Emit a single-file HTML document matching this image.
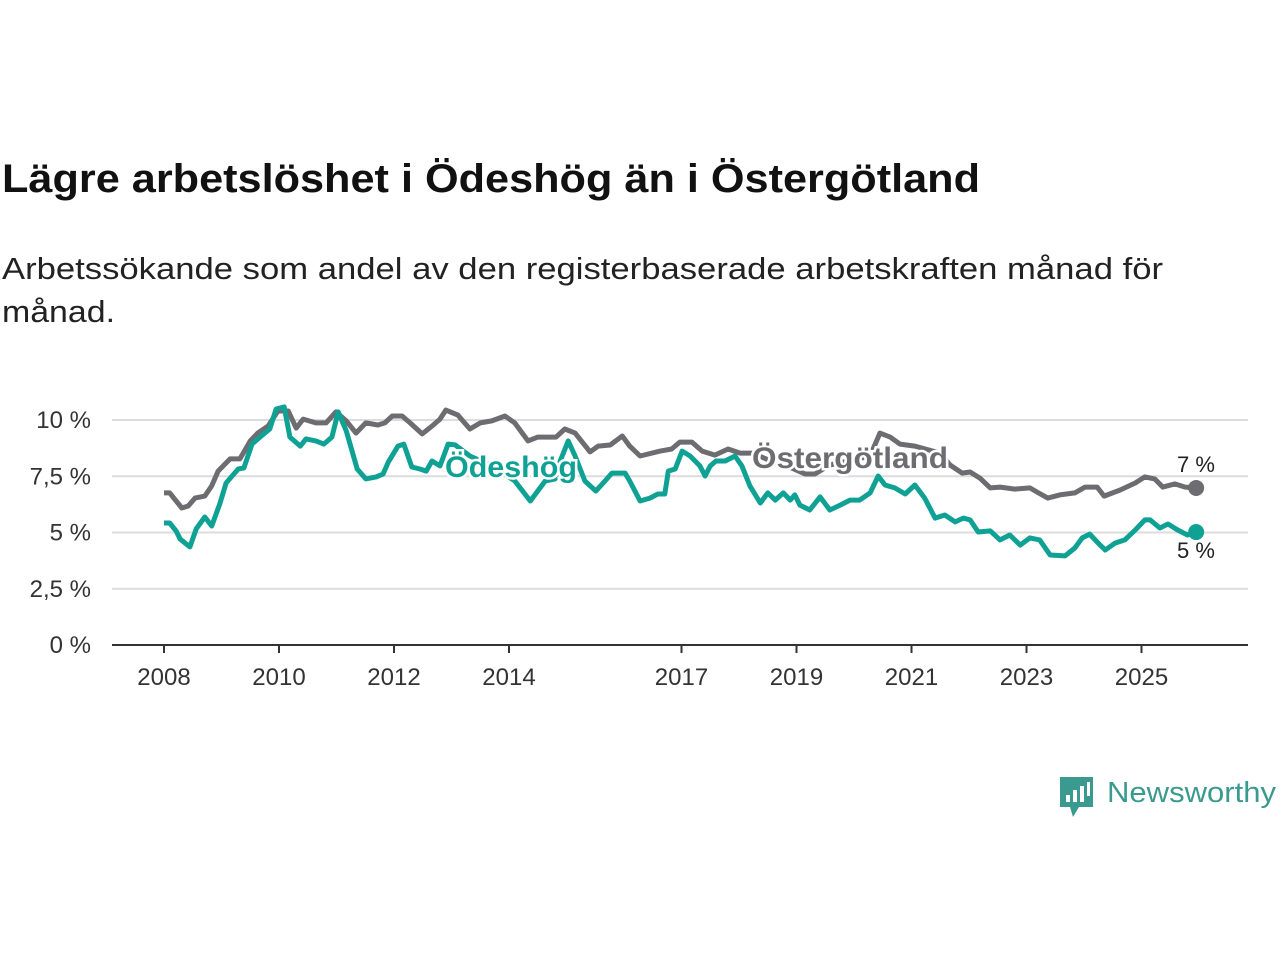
<!DOCTYPE html>
<html><head><meta charset="utf-8"><style>
body{margin:0;background:#fff;}
svg{display:block;font-family:"Liberation Sans",sans-serif;}
</style></head><body>
<svg id="chart" width="1280" height="960" viewBox="0 0 1280 960">
<text x="2" y="192" font-size="40" font-weight="bold" fill="#111" textLength="978" lengthAdjust="spacingAndGlyphs">Lägre arbetslöshet i Ödeshög än i Östergötland</text>
<text x="2" y="279" font-size="31" fill="#222" textLength="1161" lengthAdjust="spacingAndGlyphs">Arbetssökande som andel av den registerbaserade arbetskraften månad för</text>
<text x="2" y="322" font-size="31" fill="#222" textLength="113" lengthAdjust="spacingAndGlyphs">månad.</text>
<g id="grid"></g><g id="xaxis"></g><g id="series"></g>
<g>
<path d="M1060 777h33v30h-14l-6 10-3-10h-10z" fill="#3a9a8f"/>
<rect x="1066" y="795" width="4" height="7" fill="#fff"/><rect x="1073" y="790" width="4" height="12" fill="#fff"/><rect x="1080" y="786" width="4" height="16" fill="#fff"/><rect x="1087" y="782" width="3" height="14" fill="#fff"/>
<text x="1107" y="802" font-size="29" fill="#3a9a8f" textLength="169" lengthAdjust="spacingAndGlyphs">Newsworthy</text>
</g>
</svg>
<script>
const yTicks=[0,2.5,5,7.5,10];
const yTickLabels=["0 %","2,5 %","5 %","7,5 %","10 %"];
const xTicks=[2008,2010,2012,2014,2017,2019,2021,2023,2025];
const ostYears=[2008.0,2008.1,2008.31,2008.42,2008.54,2008.71,2008.83,2008.94,2009.15,2009.32,2009.5,2009.63,2009.81,2009.98,2010.16,2010.3,2010.42,2010.64,2010.82,2010.99,2011.17,2011.34,2011.51,2011.72,2011.84,2011.97,2012.14,2012.28,2012.49,2012.66,2012.8,2012.9,2013.11,2013.32,2013.5,2013.7,2013.93,2014.1,2014.33,2014.5,2014.82,2014.97,2015.15,2015.41,2015.55,2015.76,2015.97,2016.1,2016.28,2016.63,2016.83,2016.97,2017.18,2017.36,2017.58,2017.81,2018.02,2018.23,2018.54,2018.89,2019.15,2019.32,2019.58,2019.93,2020.28,2020.45,2020.63,2020.8,2021.06,2021.5,2021.67,2021.88,2022.02,2022.19,2022.37,2022.54,2022.8,2023.06,2023.18,2023.37,2023.58,2023.84,2024.02,2024.23,2024.35,2024.63,2024.89,2025.06,2025.23,2025.37,2025.58,2025.76,2025.95];
const ostValues=[6.76,6.76,6.09,6.18,6.53,6.62,7.07,7.73,8.27,8.27,9.07,9.42,9.73,10.4,10.4,9.64,10.04,9.87,9.87,10.36,9.96,9.42,9.87,9.78,9.87,10.18,10.18,9.87,9.38,9.73,10.04,10.44,10.22,9.6,9.87,9.96,10.18,9.87,9.07,9.24,9.24,9.6,9.42,8.58,8.84,8.89,9.29,8.84,8.4,8.62,8.71,9.02,9.02,8.62,8.44,8.71,8.53,8.53,8.2,7.9,7.6,7.6,8.0,8.2,8.4,9.42,9.24,8.93,8.84,8.53,8.0,7.64,7.69,7.42,6.98,7.02,6.93,6.98,6.8,6.53,6.67,6.76,7.02,7.02,6.62,6.89,7.2,7.47,7.38,7.02,7.16,7.02,6.98];
const odeYears=[2008.0,2008.1,2008.21,2008.28,2008.45,2008.56,2008.71,2008.83,2008.97,2009.08,2009.29,2009.39,2009.53,2009.67,2009.84,2009.95,2010.09,2010.19,2010.37,2010.47,2010.64,2010.78,2010.92,2011.03,2011.17,2011.36,2011.51,2011.69,2011.81,2011.9,2012.07,2012.17,2012.31,2012.45,2012.56,2012.66,2012.8,2012.94,2013.06,2013.32,2013.67,2014.1,2014.37,2014.63,2014.8,2014.89,2015.03,2015.15,2015.32,2015.51,2015.67,2015.79,2016.02,2016.1,2016.28,2016.45,2016.59,2016.71,2016.77,2016.89,2017.01,2017.15,2017.32,2017.41,2017.5,2017.6,2017.76,2017.93,2018.05,2018.19,2018.37,2018.5,2018.63,2018.77,2018.89,2018.97,2019.06,2019.23,2019.41,2019.58,2019.76,2019.93,2020.1,2020.28,2020.42,2020.54,2020.71,2020.89,2021.06,2021.23,2021.41,2021.58,2021.76,2021.9,2022.02,2022.16,2022.37,2022.54,2022.71,2022.89,2023.06,2023.23,2023.41,2023.67,2023.84,2023.97,2024.1,2024.28,2024.37,2024.54,2024.71,2024.89,2025.06,2025.15,2025.32,2025.46,2025.63,2025.8,2025.95];
const odeValues=[5.42,5.42,5.07,4.71,4.36,5.16,5.69,5.29,6.27,7.2,7.82,7.87,8.93,9.24,9.6,10.49,10.58,9.24,8.84,9.16,9.07,8.93,9.24,10.36,9.51,7.82,7.38,7.47,7.6,8.13,8.84,8.93,7.91,7.82,7.73,8.18,7.96,8.93,8.9,8.4,8.0,7.3,6.4,7.29,7.38,8.18,9.07,8.4,7.29,6.84,7.29,7.64,7.64,7.29,6.4,6.53,6.71,6.71,7.73,7.82,8.62,8.4,7.96,7.51,7.96,8.18,8.18,8.4,7.96,7.07,6.31,6.76,6.44,6.76,6.44,6.67,6.22,6.0,6.58,6.0,6.22,6.44,6.44,6.76,7.51,7.11,6.98,6.71,7.11,6.53,5.64,5.78,5.47,5.64,5.56,5.02,5.07,4.67,4.89,4.44,4.76,4.67,4.0,3.96,4.31,4.76,4.93,4.44,4.22,4.53,4.67,5.11,5.56,5.56,5.2,5.38,5.11,4.89,5.02];

const NS="http://www.w3.org/2000/svg";
const X=y=>164+(y-2008)*57.5;
const Y=v=>645-v*22.5;
function mk(tag,attrs,parent){const e=document.createElementNS(NS,tag);for(const k in attrs)e.setAttribute(k,attrs[k]);parent.appendChild(e);return e;}
const grid=document.getElementById('grid'),xa=document.getElementById('xaxis'),ser=document.getElementById('series');
yTicks.forEach((t,i)=>{
  if(t>0){const l=mk('line',{x1:112,x2:1248,y1:Y(t),y2:Y(t),stroke:'#dcdcdc','stroke-width':2},grid);
  
  }
  const tx=mk('text',{x:91,y:Y(t)+8,'text-anchor':'end','font-size':24,fill:'#333'},grid);
  tx.textContent=yTickLabels[i];
  
  
});
const ax=mk('line',{x1:112,x2:1248,y1:Y(0),y2:Y(0),stroke:'#333','stroke-width':2},xa);


xTicks.forEach(t=>{
  const tk=mk('line',{x1:X(t),x2:X(t),y1:645,y2:653,stroke:'#333','stroke-width':2},xa);
  
  
  const tx=mk('text',{x:X(t),y:685,'text-anchor':'middle','font-size':24,fill:'#333'},xa);
  tx.textContent=t;
  
  
});
function line(ys,vs,color,name){
  const d=ys.map((y,i)=>(i?'L':'M')+X(y).toFixed(1)+' '+Y(vs[i]).toFixed(1)).join('');
  const p=mk('path',{d:d,fill:'none',stroke:color,'stroke-width':5,'stroke-linejoin':'round'},ser);
  
  
  const n=ys.length-1;
  const c=mk('circle',{cx:X(ys[n]),cy:Y(vs[n]),r:8,fill:color},ser);
  
  
}
line(ostYears,ostValues,'#6d6c70','ostergotland-line');
line(odeYears,odeValues,'#0fa294','odeshog-line');
function lbl(txt,x,y,color,name,fs,bold,len){
  const a={x:x,y:y,'text-anchor':'middle','font-size':fs,fill:color,'font-weight':bold?'bold':'normal',stroke:'#fff','stroke-width':bold?5:0,'paint-order':'stroke'};
  if(len){a.textLength=len;a.lengthAdjust='spacingAndGlyphs';}
  const t=mk('text',a,ser);
  t.textContent=txt;
  
  
}
lbl('Ödeshög',511,477,'#0fa294','odeshog-label',30,true,132);
lbl('Östergötland',850,468,'#6d6c70','ostergotland-label',30,true,196);
lbl(Math.round(ostValues[ostValues.length-1])+' %',1196,472,'#222','ostergotland-end-value',22,false);
lbl(Math.round(odeValues[odeValues.length-1])+' %',1196,558,'#222','odeshog-end-value',22,false);
</script>
</body></html>
